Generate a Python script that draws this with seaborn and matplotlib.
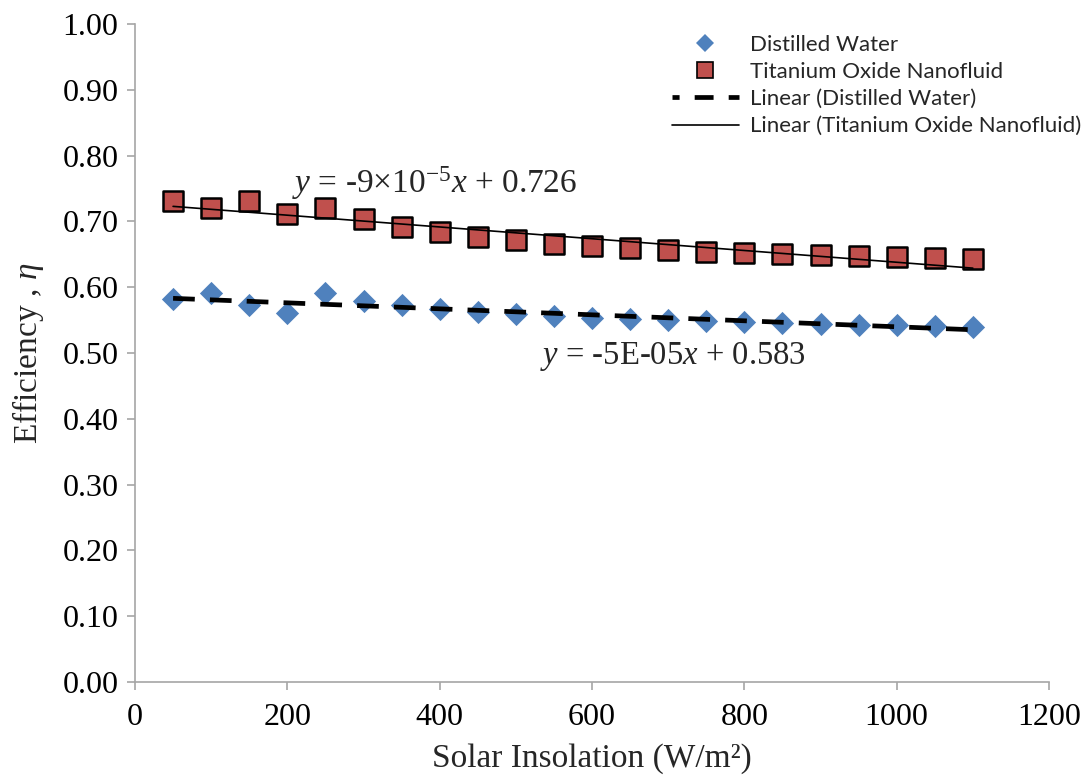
import numpy as np
import pandas as pd
import matplotlib
matplotlib.use("Agg")
import matplotlib.pyplot as plt
import seaborn as sns
from matplotlib.lines import Line2D

insolation = [50, 100, 150, 200, 250, 300, 350, 400, 450, 500, 550,
              600, 650, 700, 750, 800, 850, 900, 950, 1000, 1050, 1100]
water_eff = [0.582, 0.591, 0.573, 0.561, 0.591, 0.579, 0.573, 0.567, 0.562, 0.559, 0.556,
             0.553, 0.552, 0.550, 0.549, 0.547, 0.546, 0.544, 0.543, 0.543, 0.541, 0.540]
tio2_eff = [0.731, 0.720, 0.731, 0.711, 0.720, 0.704, 0.691, 0.684, 0.676, 0.672, 0.666,
            0.663, 0.660, 0.657, 0.653, 0.652, 0.650, 0.649, 0.647, 0.646, 0.644, 0.643]
series_names = ["Distilled Water", "Titanium Oxide Nanofluid"]
eq_water = "-5E-05"
eq_water_b = "0.583"
eq_tio2_b = "0.726"

sns.set_style("white")
plt.rcParams["font.family"] = ["Liberation Serif", "DejaVu Serif"]
plt.rcParams["mathtext.fontset"] = "custom"
plt.rcParams["mathtext.rm"] = "Liberation Serif"
plt.rcParams["mathtext.it"] = "Liberation Serif:italic"

df = pd.DataFrame({"x": insolation, "water": water_eff, "tio2": tio2_eff})
xs = np.array(insolation, dtype=float)
pw = np.polyfit(xs, water_eff, 1)
pt = np.polyfit(xs, tio2_eff, 1)
fit = pd.DataFrame({"x": xs, "fw": np.polyval(pw, xs), "ft": np.polyval(pt, xs)})

fig = plt.figure(figsize=(10.85, 7.78), dpi=100)
ax = fig.add_axes([135/1085, 1-682/778, (1049-135)/1085, (682-24)/778])

blue = "#4F81BD"
red = "#C0504D"

sns.scatterplot(data=df, x="x", y="water", marker="D", s=140, color=blue,
                edgecolor=blue, linewidth=0, ax=ax, zorder=3)
sns.scatterplot(data=df, x="x", y="tio2", marker="s", s=200, color=red,
                edgecolor="black", linewidth=1.8, ax=ax, zorder=3)
sns.lineplot(data=fit, x="x", y="fw", color="black", lw=3.4,
             linestyle=(0, (4.6, 3.2)), ax=ax, zorder=4)
sns.lineplot(data=fit, x="x", y="ft", color="black", lw=1.2, ax=ax, zorder=4)

ax.set_xlim(0, 1200)
ax.set_ylim(0, 1.0)
ax.set_xticks(np.arange(0, 1201, 200))
ax.set_yticks(np.arange(0, 1.001, 0.1))
ax.set_yticklabels([f"{v:.2f}" for v in np.arange(0, 1.001, 0.1)])
for s in ["top", "right"]:
    ax.spines[s].set_visible(False)
for s in ["left", "bottom"]:
    ax.spines[s].set_color("#a6a6a6")
    ax.spines[s].set_linewidth(1.2)
ax.tick_params(axis="both", which="major", direction="out", length=6, width=1.2,
               color="#a6a6a6", labelsize=23, labelcolor="black",
               bottom=True, left=True)
ax.tick_params(axis="y", pad=6)
ax.tick_params(axis="x", pad=9)
ax.set_xlabel("Solar Insolation (W/m²)", fontsize=24, labelpad=8)
ax.set_ylabel("Efficiency , $\\eta$", fontsize=24, labelpad=12)

ax.text(206, 0.758, "$y$ = -9×10$^{-5}$$x$ + " + eq_tio2_b, fontsize=24, va="center", ha="left")
ax.text(532, 0.494, "$y$ = " + eq_water + "$x$ + " + eq_water_b, fontsize=23.5, va="center", ha="left")

handles = [
    Line2D([], [], marker="D", ls="none", color=blue, markersize=9, markeredgewidth=0),
    Line2D([], [], marker="s", ls="none", markerfacecolor=red, markeredgecolor="black",
           markersize=11, markeredgewidth=1.2),
    Line2D([], [], color="black", lw=3.4, ls=(2.5, (4.0, 3.2))),
    Line2D([], [], color="black", lw=1.2),
]
labels = series_names + ["Linear (" + n + ")" for n in series_names]
leg = fig.legend(handles, labels, loc="upper left", bbox_to_anchor=(672/1085, 1-35/778),
                 frameon=False, prop={"family": "Lato", "size": 16}, handlelength=3.0,
                 handletextpad=0.5, labelspacing=0.32, borderaxespad=0, borderpad=0)

fig.savefig("out.png", dpi=100)
